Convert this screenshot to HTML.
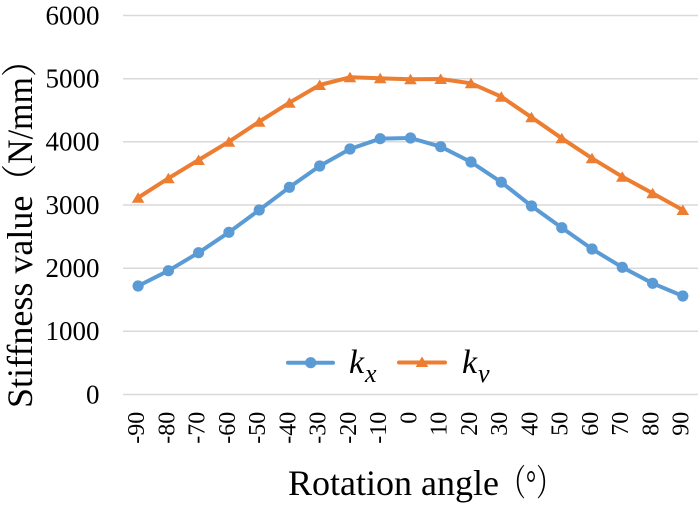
<!DOCTYPE html>
<html>
<head>
<meta charset="utf-8">
<style>
  html, body { margin: 0; padding: 0; background: #ffffff; }
  svg { display: block; }
  text { font-family: "Liberation Serif", "Noto Serif CJK SC", serif; fill: #000; }
</style>
</head>
<body>
<svg width="700" height="505" viewBox="0 0 700 505" xmlns="http://www.w3.org/2000/svg">
  <rect x="0" y="0" width="700" height="505" fill="#ffffff"/>

  <!-- gridlines -->
  <g stroke="#D9D9D9" stroke-width="1.5">
    <line x1="123" y1="15.5" x2="698" y2="15.5"/>
    <line x1="123" y1="78.7" x2="698" y2="78.7"/>
    <line x1="123" y1="141.8" x2="698" y2="141.8"/>
    <line x1="123" y1="205" x2="698" y2="205"/>
    <line x1="123" y1="268.2" x2="698" y2="268.2"/>
    <line x1="123" y1="331.3" x2="698" y2="331.3"/>
    <line x1="123" y1="394.5" x2="698" y2="394.5"/>
  </g>

  <!-- y tick labels -->
  <g text-anchor="end" font-size="27">
    <text x="99.5" y="24.3">6000</text>
    <text x="99.5" y="87.5">5000</text>
    <text x="99.5" y="150.6">4000</text>
    <text x="99.5" y="213.8">3000</text>
    <text x="99.5" y="277.0">2000</text>
    <text x="99.5" y="340.1">1000</text>
    <text x="99.5" y="403.3">0</text>
  </g>

  <!-- x tick labels (rotated) -->
  <g font-size="24" text-anchor="end">
    <text transform="translate(144.0,411.7) rotate(-90)">-90</text>
    <text transform="translate(174.3,411.7) rotate(-90)">-80</text>
    <text transform="translate(204.5,411.7) rotate(-90)">-70</text>
    <text transform="translate(234.8,411.7) rotate(-90)">-60</text>
    <text transform="translate(265.1,411.7) rotate(-90)">-50</text>
    <text transform="translate(295.3,411.7) rotate(-90)">-40</text>
    <text transform="translate(325.6,411.7) rotate(-90)">-30</text>
    <text transform="translate(355.9,411.7) rotate(-90)">-20</text>
    <text transform="translate(386.1,411.7) rotate(-90)">-10</text>
    <text transform="translate(416.4,411.7) rotate(-90)">0</text>
    <text transform="translate(446.6,411.7) rotate(-90)">10</text>
    <text transform="translate(476.9,411.7) rotate(-90)">20</text>
    <text transform="translate(507.2,411.7) rotate(-90)">30</text>
    <text transform="translate(537.4,411.7) rotate(-90)">40</text>
    <text transform="translate(567.7,411.7) rotate(-90)">50</text>
    <text transform="translate(597.9,411.7) rotate(-90)">60</text>
    <text transform="translate(628.2,411.7) rotate(-90)">70</text>
    <text transform="translate(658.5,411.7) rotate(-90)">80</text>
    <text transform="translate(688.7,411.7) rotate(-90)">90</text>
  </g>

  <!-- axis titles -->
  <g transform="translate(32,408) rotate(-90)">
    <text x="0" y="0" font-size="36">Stiffness value</text>
    <text x="210" y="0" font-size="36" textLength="155" lengthAdjust="spacingAndGlyphs">（N/mm）</text>
  </g>
  <text x="288" y="495" font-size="36">Rotation angle</text>
  <text x="500" y="495" font-size="36" textLength="62" lengthAdjust="spacingAndGlyphs">（°）</text>

  <!-- kv series (orange) -->
  <polyline fill="none" stroke="#ED7D31" stroke-width="4" stroke-linejoin="round" stroke-linecap="round"
    points="138.1,197.7 168.4,178.3 198.6,160.0 228.9,141.7 259.2,121.7 289.4,102.7 319.7,85.0 350.0,77.3 380.2,78.3 410.5,79.3 440.7,79.0 471.0,83.3 501.3,96.7 531.5,117.3 561.8,138.3 592.0,158.3 622.3,176.7 652.6,193.3 682.8,210.0"/>
  <g fill="#ED7D31">
    <polygon points="138.1,192.2 131.8,202.7 144.4,202.7"/>
    <polygon points="168.4,172.8 162.1,183.3 174.7,183.3"/>
    <polygon points="198.6,154.5 192.3,165.0 204.9,165.0"/>
    <polygon points="228.9,136.2 222.6,146.7 235.2,146.7"/>
    <polygon points="259.2,116.2 252.9,126.7 265.5,126.7"/>
    <polygon points="289.4,97.2 283.1,107.7 295.7,107.7"/>
    <polygon points="319.7,79.5 313.4,90.0 326.0,90.0"/>
    <polygon points="350.0,71.8 343.7,82.3 356.3,82.3"/>
    <polygon points="380.2,72.8 373.9,83.3 386.5,83.3"/>
    <polygon points="410.5,73.8 404.2,84.3 416.8,84.3"/>
    <polygon points="440.7,73.5 434.4,84.0 447.0,84.0"/>
    <polygon points="471.0,77.8 464.7,88.3 477.3,88.3"/>
    <polygon points="501.3,91.2 495.0,101.7 507.6,101.7"/>
    <polygon points="531.5,111.8 525.2,122.3 537.8,122.3"/>
    <polygon points="561.8,132.8 555.5,143.3 568.1,143.3"/>
    <polygon points="592.0,152.8 585.7,163.3 598.3,163.3"/>
    <polygon points="622.3,171.2 616.0,181.7 628.6,181.7"/>
    <polygon points="652.6,187.8 646.3,198.3 658.9,198.3"/>
    <polygon points="682.8,204.5 676.5,215.0 689.1,215.0"/>
  </g>

  <!-- kx series (blue) -->
  <polyline fill="none" stroke="#5B9BD5" stroke-width="4" stroke-linejoin="round" stroke-linecap="round"
    points="138.1,286.0 168.4,270.7 198.6,252.7 228.9,232.3 259.2,210.0 289.4,187.3 319.7,166.0 350.0,149.0 380.2,138.7 410.5,138.0 440.7,146.7 471.0,162.0 501.3,182.2 531.5,206.0 561.8,227.7 592.0,249.0 622.3,267.3 652.6,283.3 682.8,296.0"/>
  <g fill="#5B9BD5">
    <circle cx="138.1" cy="286.0" r="5.6"/>
    <circle cx="168.4" cy="270.7" r="5.6"/>
    <circle cx="198.6" cy="252.7" r="5.6"/>
    <circle cx="228.9" cy="232.3" r="5.6"/>
    <circle cx="259.2" cy="210.0" r="5.6"/>
    <circle cx="289.4" cy="187.3" r="5.6"/>
    <circle cx="319.7" cy="166.0" r="5.6"/>
    <circle cx="350.0" cy="149.0" r="5.6"/>
    <circle cx="380.2" cy="138.7" r="5.6"/>
    <circle cx="410.5" cy="138.0" r="5.6"/>
    <circle cx="440.7" cy="146.7" r="5.6"/>
    <circle cx="471.0" cy="162.0" r="5.6"/>
    <circle cx="501.3" cy="182.2" r="5.6"/>
    <circle cx="531.5" cy="206.0" r="5.6"/>
    <circle cx="561.8" cy="227.7" r="5.6"/>
    <circle cx="592.0" cy="249.0" r="5.6"/>
    <circle cx="622.3" cy="267.3" r="5.6"/>
    <circle cx="652.6" cy="283.3" r="5.6"/>
    <circle cx="682.8" cy="296.0" r="5.6"/>
  </g>

  <!-- legend -->
  <line x1="288" y1="362.7" x2="333" y2="362.7" stroke="#5B9BD5" stroke-width="4" stroke-linecap="round"/>
  <circle cx="310.7" cy="362.7" r="5.6" fill="#5B9BD5"/>
  <text x="349" y="373" font-size="34" font-style="italic">k</text>
  <text x="365" y="382" font-size="26" font-style="italic">x</text>

  <line x1="399" y1="362.5" x2="445" y2="362.5" stroke="#ED7D31" stroke-width="4" stroke-linecap="round"/>
  <polygon points="422,356.5 415.7,367 428.3,367" fill="#ED7D31"/>
  <text x="462" y="373" font-size="34" font-style="italic">k</text>
  <text x="478" y="382" font-size="26" font-style="italic">v</text>
</svg>
</body>
</html>
